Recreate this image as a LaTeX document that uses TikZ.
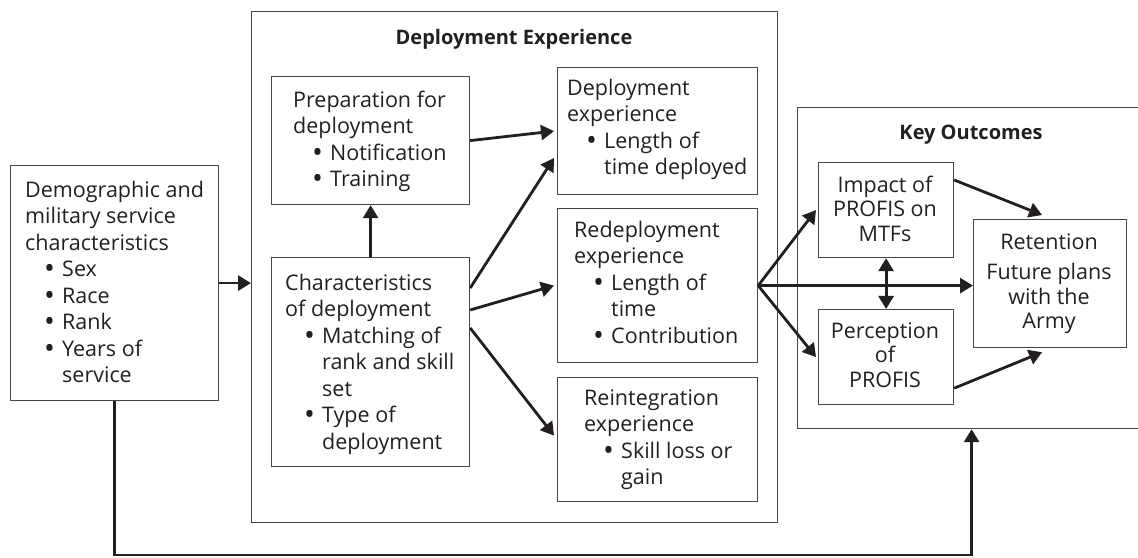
\documentclass[tikz,border=0pt]{standalone}
\usepackage{fontspec}
\setmainfont{Open Sans}
\usetikzlibrary{arrows.meta,calc}
\definecolor{ink}{RGB}{35,31,32}
\definecolor{boxc}{RGB}{70,70,70}
\newcommand{\bulletmark}{\raisebox{-0.1em}{\scalebox{1.35}{\textbullet}}}
\newcommand{\itm}[1]{\hspace*{19pt}\makebox[18pt][l]{\bulletmark}#1}
\newcommand{\cnt}[1]{\hspace*{37pt}#1}
\begin{document}
\begin{tikzpicture}[x=1pt,y=1pt,
  box/.style={draw=boxc, line width=1.2pt, inner sep=0pt, anchor=north west},
  txt/.style={inner sep=0pt, anchor=north west, align=left, text=ink, font=\fontsize{21.5}{26.5}\selectfont},
  ctxt/.style={inner sep=0pt, anchor=north, align=center, text=ink, font=\fontsize{21.5}{24.5}\selectfont},
  ttl/.style={inner sep=0pt, anchor=base, text=ink, font=\fontsize{20}{22}\selectfont\bfseries},
  arr/.style={draw=ink, line width=2.8pt, -{Triangle[length=13pt,width=15pt]}}
]
\useasboundingbox (0,0) rectangle (1138,557);
% boxes
\node[box, minimum width=208pt, minimum height=235pt] (demo) at (10,392) {};
\node[box, minimum width=526pt, minimum height=511pt] (depouter) at (251,546) {};
\node[box, minimum width=198pt, minimum height=128pt] (prep) at (271,481) {};
\node[box, minimum width=198pt, minimum height=209pt] (char) at (271,300) {};
\node[box, minimum width=200pt, minimum height=127pt] (depexp) at (557,490) {};
\node[box, minimum width=200pt, minimum height=154pt] (redep) at (557,349) {};
\node[box, minimum width=200pt, minimum height=124pt] (reint) at (557,180) {};
\node[box, minimum width=348pt, minimum height=321pt] (keyout) at (797,450) {};
\node[box, minimum width=135pt, minimum height=95pt] (impact) at (818,395) {};
\node[box, minimum width=135pt, minimum height=95pt] (percep) at (818,248) {};
\node[box, minimum width=153pt, minimum height=128pt] (reten) at (973,338) {};
% titles
\node[ttl] (t1) at (514,512) {Deployment Experience};
\node[ttl] (t2) at (971,417) {Key Outcomes};
% texts
\node[txt] (demotx) at (25,378.6) {\strut Demographic and\\military service\\characteristics\\\itm{Sex}\\\itm{Race}\\\itm{Rank}\\\itm{Years of}\\\cnt{service}};
\node[txt] (preptx) at (293,468.6) {\strut Preparation for\\deployment\\\itm{Notification}\\\itm{Training}};
\node[txt] (chartx) at (285,285.6) {\strut Characteristics\\of deployment\\\itm{Matching of}\\\cnt{rank and skill}\\\cnt{set}\\\itm{Type of}\\\cnt{deployment}};
\node[txt] (depexptx) at (567,480.6) {\strut Deployment\\experience\\\itm{Length of}\\\cnt{time deployed}};
\node[txt] (redeptx) at (574,338.6) {\strut Redeployment\\experience\\\itm{Length of}\\\cnt{time}\\\itm{Contribution}};
\node[txt] (reinttx) at (584,170.6) {\strut Reintegration\\experience\\\itm{Skill loss or}\\\cnt{gain}};
\node[ctxt] (impacttx) at (885,382) {\strut Impact of\\PROFIS on\\MTFs};
\node[ctxt] (perceptx) at (885,236) {\strut Perception\\of\\PROFIS};
\node[ctxt] (retentx) at (1049,325) {\strut Retention\\[6pt]Future plans\\with the\\Army};
% connectors
\draw[arr] (demo.east) -- (demo.east -| depouter.west);
\draw[arr] (char.north) -- (prep.south);
\draw[arr] (prep.east) -- ([xshift=-3pt]depexp.west);
\draw[arr] ([yshift=-31pt]char.north east) -- ([xshift=-3pt,yshift=-91pt]depexp.north west);
\draw[arr] ([yshift=-53pt]char.north east) -- ([xshift=-3pt]redep.west);
\draw[arr] ([yshift=-71pt]char.north east) -- ([xshift=-3pt,yshift=4pt]reint.west);
\draw[arr] (redep.east) -- ([xshift=-2pt]impact.west);
\draw[arr] (redep.east) -- ([xshift=-2pt]percep.west);
\draw[arr] (redep.east) -- (redep.east -| reten.west);
\draw[arr, {Triangle[length=13pt,width=15pt]}-{Triangle[length=13pt,width=15pt]}] (impact.south) -- (percep.north);
\draw[arr] ([yshift=-18pt]impact.north east) -- ([xshift=-8pt,yshift=4pt]reten.north);
\draw[arr] ([yshift=17pt]percep.south east) -- ([xshift=-8pt,yshift=-4pt]reten.south);
\coordinate (fb) at (114,2);
\draw[arr] (demo.south) -- (demo.south |- fb) -- (fb -| keyout.south) -- (keyout.south);
\end{tikzpicture}
\end{document}
